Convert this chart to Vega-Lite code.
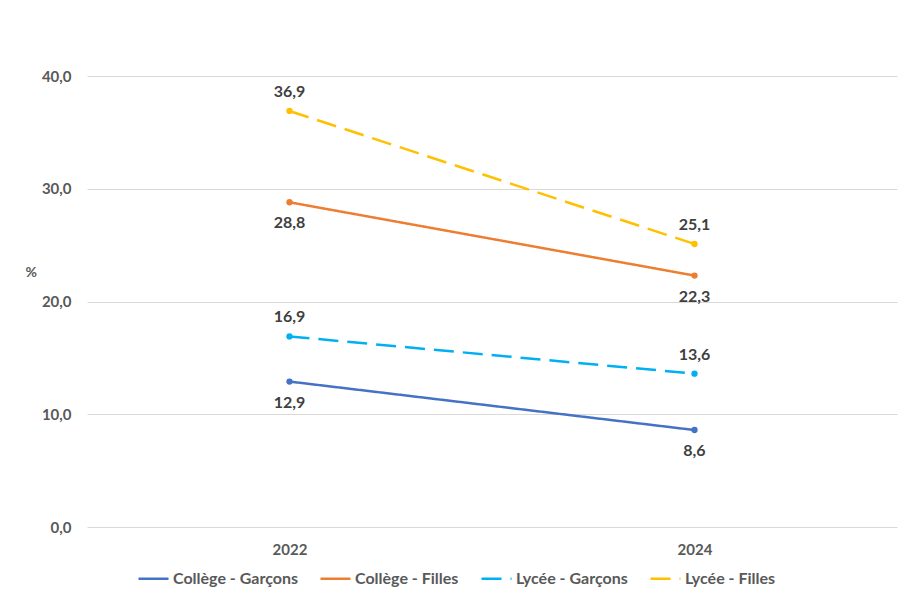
{
  "$schema": "https://vega.github.io/schema/vega-lite/v6.json",
  "autosize": "none",
  "width": 810,
  "height": 451,
  "padding": {"left": 87, "top": 76, "right": 4, "bottom": 70},
  "background": "white",
  "config": {
    "locale": {"number": {"decimal": ",", "thousands": " ", "grouping": [3], "currency": ["", " €"]}},
    "view": {"stroke": null},
    "font": "Lato"
  },
  "data": {
    "values": [
      {"annee": "2022", "serie": "Collège - Garçons", "niveau": "Collège", "valeur": 12.9},
      {"annee": "2024", "serie": "Collège - Garçons", "niveau": "Collège", "valeur": 8.6},
      {"annee": "2022", "serie": "Collège - Filles", "niveau": "Collège", "valeur": 28.8},
      {"annee": "2024", "serie": "Collège - Filles", "niveau": "Collège", "valeur": 22.3},
      {"annee": "2022", "serie": "Lycée - Garçons", "niveau": "Lycée", "valeur": 16.9},
      {"annee": "2024", "serie": "Lycée - Garçons", "niveau": "Lycée", "valeur": 13.6},
      {"annee": "2022", "serie": "Lycée - Filles", "niveau": "Lycée", "valeur": 36.9},
      {"annee": "2024", "serie": "Lycée - Filles", "niveau": "Lycée", "valeur": 25.1}
    ]
  },
  "encoding": {
    "x": {
      "field": "annee", "type": "ordinal",
      "scale": {"paddingInner": 0, "paddingOuter": 0},
      "axis": {"title": null, "labelAngle": 0, "domain": false, "ticks": false, "labelPadding": 15,
               "labelFont": "Lato", "labelFontSize": 15, "labelFontWeight": "bold", "labelColor": "#595959"}
    },
    "y": {
      "field": "valeur", "type": "quantitative",
      "scale": {"domain": [0, 40], "nice": false},
      "axis": {"title": "%", "titleAngle": 0, "titleX": -62, "titleY": 196, "titleAlign": "left", "titleBaseline": "middle",
               "titleFont": "Lato", "titleFontSize": 14, "titleFontWeight": "bold", "titleColor": "#595959",
               "values": [0, 10, 20, 30, 40], "format": ".1f", "domain": false, "ticks": false, "labelPadding": 16,
               "labelFont": "Lato", "labelFontSize": 15, "labelFontWeight": "bold", "labelColor": "#595959",
               "grid": true, "gridColor": "#D9D9D9", "gridWidth": 1}
    }
  },
  "layer": [
    {
      "mark": {"type": "line", "strokeWidth": 2.5, "point": {"filled": true, "size": 40}},
      "encoding": {
        "color": {
          "field": "serie", "type": "nominal",
          "scale": {"domain": ["Collège - Garçons", "Collège - Filles", "Lycée - Garçons", "Lycée - Filles"],
                    "range": ["#4472C4", "#ED7D31", "#00B0F0", "#FFC000"]},
          "legend": {"title": null, "orient": "none", "legendX": 50, "legendY": 486, "direction": "horizontal",
                     "symbolType": "stroke", "symbolSize": 900, "symbolStrokeWidth": 2.5, "columnPadding": 17,
                     "labelFont": "Lato", "labelFontSize": 16, "labelFontWeight": "bold", "labelColor": "#595959", "labelOffset": 3}
        },
        "strokeDash": {
          "field": "serie", "type": "nominal",
          "scale": {"domain": ["Collège - Garçons", "Collège - Filles", "Lycée - Garçons", "Lycée - Filles"],
                    "range": [[1, 0], [1, 0], [20, 9], [20, 9]]},
          "legend": null
        }
      }
    },
    {
      "transform": [{"filter": "datum.niveau === 'Lycée'"}],
      "mark": {"type": "text", "dy": -19, "fontSize": 16, "fontWeight": "bold", "color": "#404040", "font": "Lato"},
      "encoding": {"text": {"field": "valeur", "type": "quantitative", "format": ".1f"}}
    },
    {
      "transform": [{"filter": "datum.niveau === 'Collège'"}],
      "mark": {"type": "text", "dy": 21, "fontSize": 16, "fontWeight": "bold", "color": "#404040", "font": "Lato"},
      "encoding": {"text": {"field": "valeur", "type": "quantitative", "format": ".1f"}}
    }
  ]
}
